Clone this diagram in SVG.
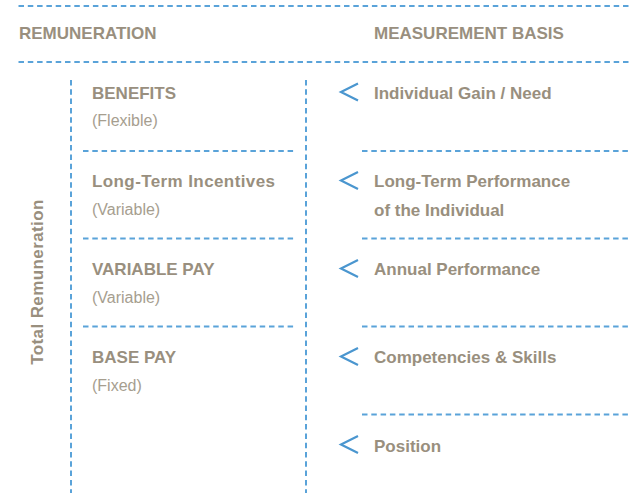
<svg xmlns="http://www.w3.org/2000/svg" width="631" height="499" viewBox="0 0 631 499">
<style>
.dash{stroke:#5aa3d9;stroke-width:2;stroke-dasharray:5.5 3.8;fill:none}
.chev{stroke:#4a96cf;stroke-width:2.2;fill:none;stroke-linecap:butt;stroke-linejoin:miter}
.h{font-family:"Liberation Sans",Arial,sans-serif;font-weight:bold;font-size:17px;fill:#998f7e}
.s{font-family:"Liberation Sans",Arial,sans-serif;font-size:16px;fill:#a69e8f}
</style>
<rect width="631" height="499" fill="#ffffff"/>
<g id="connectors">
<line class="dash" x1="18.5" y1="6" x2="631" y2="6"/>
<line class="dash" x1="18.5" y1="62" x2="631" y2="62"/>
<line class="dash" x1="71" y1="80" x2="71" y2="493"/>
<line class="dash" x1="306" y1="80" x2="306" y2="493"/>
<line class="dash" x1="83" y1="151" x2="294" y2="151"/>
<line class="dash" x1="83" y1="238.5" x2="294" y2="238.5"/>
<line class="dash" x1="83" y1="326.5" x2="294" y2="326.5"/>
<line class="dash" x1="362" y1="151" x2="631" y2="151"/>
<line class="dash" x1="362" y1="238.5" x2="631" y2="238.5"/>
<line class="dash" x1="362" y1="326.5" x2="631" y2="326.5"/>
<line class="dash" x1="362" y1="414.5" x2="631" y2="414.5"/>
<polyline class="chev" points="358,83.5 341,92 358,100.5"/>
<polyline class="chev" points="358,172 341,180.5 358,189"/>
<polyline class="chev" points="358,260 341,268.5 358,277"/>
<polyline class="chev" points="358,348 341,356.5 358,365"/>
<polyline class="chev" points="358,436 341,444.5 358,453"/>
</g>
<g id="header-remuneration"><text class="h" x="19" y="39">REMUNERATION</text></g>
<g id="header-measurement"><text class="h" x="374" y="39">MEASUREMENT BASIS</text></g>
<g id="total"><text class="h" transform="translate(43,282) rotate(-90)" text-anchor="middle" letter-spacing="0.4">Total Remuneration</text></g>
<g id="benefits"><text class="h" x="92" y="99">BENEFITS</text><text class="s" x="92" y="126">(Flexible)</text></g>
<g id="lti"><text class="h" x="92" y="187" letter-spacing="0.4">Long-Term Incentives</text><text class="s" x="92" y="215">(Variable)</text></g>
<g id="variable"><text class="h" x="92" y="275">VARIABLE PAY</text><text class="s" x="92" y="303">(Variable)</text></g>
<g id="base"><text class="h" x="92" y="363">BASE PAY</text><text class="s" x="92" y="391">(Fixed)</text></g>
<g id="m-need"><text class="h" x="374" y="99">Individual Gain / Need</text></g>
<g id="m-ltp"><text class="h" x="374" y="187">Long-Term Performance</text><text class="h" x="374" y="216">of the Individual</text></g>
<g id="m-annual"><text class="h" x="374" y="275">Annual Performance</text></g>
<g id="m-comp"><text class="h" x="374" y="363">Competencies &amp; Skills</text></g>
<g id="m-position"><text class="h" x="374" y="452">Position</text></g>
</svg>
